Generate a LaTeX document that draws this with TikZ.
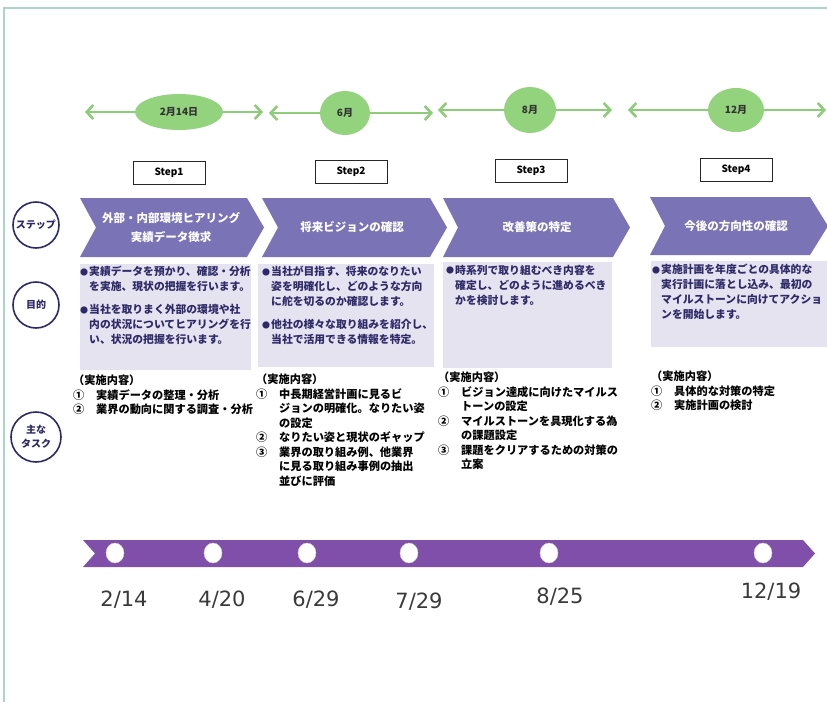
\documentclass[tikz,border=0pt]{standalone}
\usepackage{fontspec}
\setmainfont{Noto Sans CJK JP}
\newfontfamily\datefont{DejaVu Sans}
\usetikzlibrary{arrows.meta,shapes.geometric}
\definecolor{framecol}{HTML}{A9D6C6}
\definecolor{grn}{HTML}{8DCC78}
\definecolor{grnfill}{HTML}{93D37E}
\definecolor{chev}{HTML}{7A73B6}
\definecolor{lav}{HTML}{E5E3F0}
\definecolor{navy}{HTML}{2C2A66}
\definecolor{boxtxt}{HTML}{2E2A68}
\definecolor{band}{HTML}{7F4FA9}
\definecolor{datecol}{HTML}{3A3A3A}
\newcommand\bul{\makebox[9pt][l]{\raisebox{0.6pt}{\fontsize{8}{8}\selectfont ●}}}
\newcommand\ind{\hspace*{9pt}}
\newcommand\tnum[1]{\makebox[23pt][l]{#1}}
\newcommand\tind{\hspace*{23pt}}
\tikzset{
  gell/.style={ellipse, fill=grnfill, inner sep=0pt, text=black!80,
    font=\bfseries\fontsize{10}{10}\selectfont},
  garrow/.style={grn, line width=2.6pt},
  gtip/.tip={Straight Barb[length=6.5pt,width=14pt]},
  stepbox/.style={draw=black!85, line width=0.9pt, minimum width=72pt,
    minimum height=23pt, inner sep=0pt, font=\bfseries\fontsize{10}{10}\selectfont},
  chevtext/.style={text=white, font=\bfseries\fontsize{11.5}{19}\selectfont,
    align=center, inner sep=0pt},
  purp/.style={text=boxtxt, font=\bfseries\fontsize{10.8}{15}\selectfont,
    align=left, inner sep=0pt, anchor=north west},
  task/.style={text=black, font=\bfseries\fontsize{11.2}{14.5}\selectfont,
    align=left, inner sep=0pt, anchor=north west},
  sidecirc/.style={circle, draw=navy, line width=1.6pt, minimum size=46pt,
    inner sep=0pt, text=navy, font=\bfseries\fontsize{10}{14}\selectfont, align=center},
  dotn/.style={ellipse, fill=white, draw=gray!40, line width=0.4pt,
    minimum width=18pt, minimum height=20pt, inner sep=0pt},
  datelbl/.style={font=\datefont\fontsize{21}{21}\selectfont, text=datecol}
}
\begin{document}
\begin{tikzpicture}[x=1pt,y=-1pt]
\useasboundingbox (0,0) rectangle (827,702);
\clip (0,0) rectangle (827,702);
% frame
\draw[framecol, line width=1.2pt] (4,702) -- (4,8) -- (827,8);

% green timeline
\node[gell, minimum width=88pt, minimum height=36pt] (m1) at (179,112) {2月14日};
\node[gell, minimum width=50pt, minimum height=44pt] (m2) at (345,113) {6月};
\node[gell, minimum width=52pt, minimum height=46pt] (m3) at (530,110) {8月};
\node[gell, minimum width=56pt, minimum height=44pt] (m4) at (736,110) {12月};
\coordinate (g1l) at (85,112);  \coordinate (g1r) at (263,112);
\coordinate (g2l) at (269,113); \coordinate (g2r) at (433,113);
\coordinate (g3l) at (438,110); \coordinate (g3r) at (612,110);
\coordinate (g4l) at (628,110); \coordinate (g4r) at (826,110);
\draw[garrow, gtip-] (g1l) -- (m1);
\draw[garrow, -gtip] (m1) -- (g1r);
\draw[garrow, gtip-] (g2l) -- (m2);
\draw[garrow, -gtip] (m2) -- (g2r);
\draw[garrow, gtip-] (g3l) -- (m3);
\draw[garrow, -gtip] (m3) -- (g3r);
\draw[garrow, gtip-] (g4l) -- (m4);
\draw[garrow, -gtip] (m4) -- (g4r);

% step boxes
\node[stepbox] (s1) at (169,173) {Step1};
\node[stepbox] (s2) at (351,172) {Step2};
\node[stepbox] (s3) at (531,171) {Step3};
\node[stepbox] (s4) at (736,170) {Step4};

% chevrons
\fill[chev] (80,198) -- (247,198) -- (264,227.5) -- (247,257) -- (80,257) -- (96,227.5) -- cycle;
\fill[chev] (262,198) -- (430,198) -- (447,227.5) -- (430,257) -- (262,257) -- (278,227.5) -- cycle;
\fill[chev] (443,198) -- (613,198) -- (630,227.5) -- (613,257) -- (443,257) -- (458,227.5) -- cycle;
\fill[chev] (650,197) -- (810,197) -- (828,226) -- (810,255) -- (650,255) -- (665,226) -- cycle;
\node[chevtext] (c1) at (171,227.5) {外部・内部環境ヒアリング\\実績データ徴求};
\node[chevtext] (c2) at (352,227.5) {将来ビジョンの確認};
\node[chevtext] (c3) at (537,227.5) {改善策の特定};
\node[chevtext] (c4) at (736,226) {今後の方向性の確認};

% lavender boxes
\fill[lav] (80,264) rectangle (251,370);
\fill[lav] (258,264) rectangle (434,367);
\fill[lav] (443,262) rectangle (612,368);
\fill[lav] (651,261) rectangle (827,347);
\node[purp] (p1) at (80,266) {\bul 実績データを預かり、確認・分析\\\ind を実施、現状の把握を行います。\\[8pt]\bul 当社を取りまく外部の環境や社\\\ind 内の状況についてヒアリングを行\\\ind い、状況の把握を行います。};
\node[purp] (p2) at (262,266) {\bul 当社が目指す、将来のなりたい\\\ind 姿を明確化し、どのような方向\\\ind に舵を切るのか確認します。\\[8pt]\bul 他社の様々な取り組みを紹介し、\\\ind 当社で活用できる情報を特定。};
\node[purp] (p3) at (446,265) {\bul 時系列で取り組むべき内容を\\\ind 確定し、どのように進めるべき\\\ind かを検討します。};
\node[purp] (p4) at (652,264) {\bul 実施計画を年度ごとの具体的な\\\ind 実行計画に落とし込み、最初の\\\ind マイルストーンに向けてアクショ\\\ind ンを開始します。};

% tasks
\node[task] (t1) at (73,375) {（実施内容）\\\tnum{①}実績データの整理・分析\\\tnum{②}業界の動向に関する調査・分析};
\node[task] (t2) at (256,374) {（実施内容）\\\tnum{①}中長期経営計画に見るビ\\\tind ジョンの明確化。なりたい姿\\\tind の設定\\\tnum{②}なりたい姿と現状のギャップ\\\tnum{③}業界の取り組み例、他業界\\\tind に見る取り組み事例の抽出\\\tind 並びに評価};
\node[task] (t3) at (438,372) {（実施内容）\\\tnum{①}ビジョン達成に向けたマイルス\\\tind トーンの設定\\\tnum{②}マイルストーンを具現化する為\\\tind の課題設定\\\tnum{③}課題をクリアするための対策の\\\tind 立案};
\node[task] (t4) at (651,371) {（実施内容）\\\tnum{①}具体的な対策の特定\\\tnum{②}実施計画の検討};

% side circles
\node[sidecirc] (k1) at (36,225) {ステップ};
\node[sidecirc] (k2) at (36,305) {目的};
\node[sidecirc, minimum size=50pt] (k3) at (36,437) {主な\\タスク};

% bottom band
\fill[band] (83,540) -- (803,540) -- (815,553.5) -- (803,567) -- (83,567) -- (95,553.5) -- cycle;
\node[dotn] (d1) at (115,553) {};
\node[dotn] (d2) at (213,553) {};
\node[dotn] (d3) at (307,553) {};
\node[dotn] (d4) at (409,553) {};
\node[dotn] (d5) at (549,553) {};
\node[dotn] (d6) at (763,553) {};
\node[datelbl] (l1) at (124,600) {2/14};
\node[datelbl] (l2) at (222,600) {4/20};
\node[datelbl] (l3) at (316,600) {6/29};
\node[datelbl] (l4) at (419,602) {7/29};
\node[datelbl] (l5) at (560,597) {8/25};
\node[datelbl] (l6) at (771,592) {12/19};
\end{tikzpicture}
\end{document}
